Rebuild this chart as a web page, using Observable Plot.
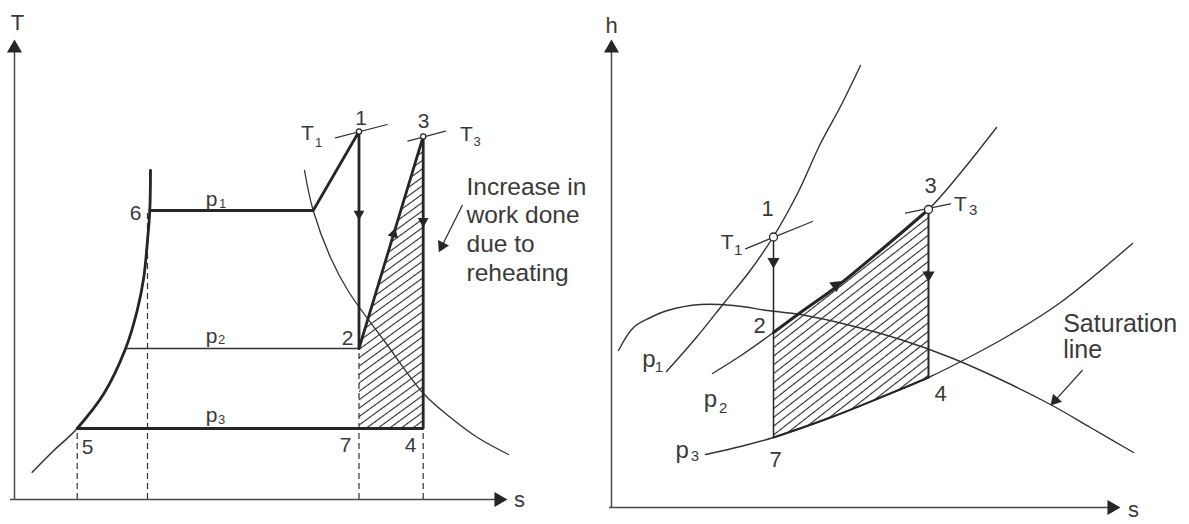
<!DOCTYPE html>
<html><head><meta charset="utf-8">
<script src="https://cdn.jsdelivr.net/npm/d3@7"></script>
<script src="https://cdn.jsdelivr.net/npm/@observablehq/plot@0.6"></script>
<style>
html,body{margin:0;padding:0;background:#fff;overflow:hidden}
#row{display:flex;width:1189px;height:524px}
#row svg{display:block;flex:none}
</style></head><body><div id="row"></div>
<script>
// ---------- LEFT: T–s diagram (schematic units: [s, T]) ----------
const tsSatLiquid = [[17.7,27.3],[39.3,49],[62.7,71],[89.3,105.7],[111,150.7],[122.7,189],[129.3,222.3],[132.7,255.7],[135.3,289],[136,329]];
const tsSatVapour = [[290,329],[298.7,289],[316,242],[334,208],[371,157],[409,106],[436,82],[463,62],[494,45]];
const tsState = {"1":[344.5,368],"2":[344.5,151],"3":[408.7,363],"4":[408.7,71],"5":[62.7,71],"6":[135.3,289],"7":[344.5,71]};
const tsDryPoint = [298.7,289];
const tsP2Start = [111,151];
const tsDropsFrom = [[62.7,71],[133,289],[344.5,151],[408.7,71]];
const tsIsoT1 = [[321,361.7],[372.7,375]];
const tsIsoT3 = [[393.3,358.3],[431,368.3]];
const tsNumbers = [["1",346.7,381],["2",333,161],["3",409,378],["4",396,54],["5",73,52],["6",121,286],["7",331,54]];
const tsLetters = [["T",293,366],["T",452,365],["p",197,300.7],["p",197,163.7],["p",197,84.7]];
const tsSubs = [["1",304,357],["3",462.5,358],["1",208,296],["2",207,159.5],["3",207,80]];
const tsNote = {text:"Increase in\nwork done\ndue to\nreheating", s:452, T:325};
const tsNoteArrow = [[447.7,294],[424.3,247.3]];
const tsAxisTip = {T:460, s:493};
const tsAxisLabels = [["T",3,477],["s",505,0]];

// ---------- RIGHT: h–s diagram (schematic units: [s, h]) ----------
const hsP1 = [[55,136],[84,169],[113,205],[138,236],[162,271],[186,314],[209,364],[229,401],[249,442]];
const hsP2 = [[101,134],[131,153],[162,175],[189,195],[224,220],[269,257],[317,298],[351,337],[385,380]];
const hsP3 = [[94,53],[129,61],[162,70],[219,90],[269,110],[317,130],[359,151],[399,173],[449,205],[521,264]];
const hsSaturation = [[7,157],[22,180],[39,190],[56,197],[89,203],[122,202],[156,197],[189,193],[239,182],[289,168],[339,150],[389,128],[439,103],[479,80],[522,55]];
const hsState = {"1":[162,270.5],"2":[162,175],"3":[317,298],"4":[317,130],"7":[162,70]};
const hsIsoT1 = [[134,258.7],[201,286]];
const hsIsoT3 = [[294,294.3],[339,303.7]];
const hsNumbers = [["1",156,299],["2",148,182],["3",319,322],["4",329,114],["7",164,48]];
const hsLetters = [["T",115.7,265.3],["T",349,303.7],["p",37.3,147.7],["p",99,107.7],["p",70.7,56.7]];
const hsSubs = [["1",126.7,257],["3",361.7,297.7],["1",47.3,140.3],["2",111.7,99.7],["3",83.3,51]];
const hsNote = {text:"Saturation\nline", s:451.7, h:194.8};
const hsNoteArrow = [[470.7,137],[439,102]];
const hsAxisTip = {h:468, s:509};
const hsAxisLabels = [["h",0,482],["s",522,-2]];

// ---------- helpers ----------
const INK = "#262626", THIN = "#333", TXT = "#3a3a3a", AX = "#4a4a4a";
const FONT = "Liberation Sans, Arial, Helvetica, sans-serif";
const K = 1.555; // tip distance of d3 triangle symbol, in units of r
function along(a, b, t) {
  return {x:a[0]+(b[0]-a[0])*t, y:a[1]+(b[1]-a[1])*t, angle:Math.atan2(b[0]-a[0], b[1]-a[1])*180/Math.PI};
}
function headAt(from, to, r) {
  const dx = to[0]-from[0], dy = to[1]-from[1], L = Math.hypot(dx, dy);
  return {x:to[0]-dx/L*K*r, y:to[1]-dy/L*K*r, angle:Math.atan2(dx, dy)*180/Math.PI};
}
function addHatch(svg, id, spacing, angle, width) {
  d3.select(svg).insert("defs", ":first-child").html(
    `<pattern id="${id}" patternUnits="userSpaceOnUse" width="20" height="${spacing}" patternTransform="rotate(${-angle})">` +
    `<line x1="-1" y1="${spacing/2}" x2="21" y2="${spacing/2}" stroke="${INK}" stroke-width="${width}"/></pattern>`);
}
const textOpts = (size) => ({x:d=>d[1], y:d=>d[2], text:d=>d[0], fontSize:size, fill:TXT});

// ---------- LEFT PLOT ----------
const S = tsState;
const tsHatch = [S["7"], S["2"], S["3"], S["4"]];
const tsFlow = [along(S["1"], S["2"], 0.38), along(S["3"], S["4"], 0.29), along(S["2"], S["3"], 0.54)];
const tsCallHead = headAt(tsNoteArrow[0], tsNoteArrow[1], 4.5);
const tsAxisHeads = [{x:0, y:tsAxisTip.T - K*5.6, angle:0}, {x:tsAxisTip.s - K*5.6, y:0, angle:90}];

const left = Plot.plot({
  width:595, height:524, marginLeft:14, marginRight:0, marginTop:0, marginBottom:25,
  x:{domain:[0,581], axis:null}, y:{domain:[0,499], axis:null},
  style:{fontFamily:FONT, background:"transparent", overflow:"visible"},
  marks:[
    Plot.line(tsHatch, {fill:"url(#hatchL)", stroke:"none"}),
    // axes
    Plot.ruleX([0], {y1:0, y2:tsAxisHeads[0].y, stroke:AX, strokeWidth:1.5}),
    Plot.ruleY([0], {x1:-4, x2:tsAxisHeads[1].x, stroke:AX, strokeWidth:1.5}),
    Plot.dot(tsAxisHeads, {x:"x", y:"y", rotate:"angle", symbol:"triangle", r:5.6, fill:INK, stroke:"none"}),
    // dashed projections
    Plot.ruleX(tsDropsFrom, {x:d=>d[0], y1:0, y2:d=>d[1], stroke:THIN, strokeWidth:1.2, strokeDasharray:"6,4"}),
    // saturation dome
    Plot.line(tsSatLiquid, {curve:"catmull-rom", stroke:THIN, strokeWidth:1.5}),
    Plot.line(tsSatLiquid.filter(d=>d[1]>=71), {curve:"catmull-rom", stroke:INK, strokeWidth:2.8}),
    Plot.line(tsSatVapour, {curve:"catmull-rom", stroke:THIN, strokeWidth:1.3}),
    // p2 line
    Plot.line([tsP2Start, S["2"]], {stroke:THIN, strokeWidth:1.3}),
    // cycle
    Plot.line([S["6"], tsDryPoint, S["1"], S["2"]], {stroke:INK, strokeWidth:2.8, strokeLinejoin:"miter"}),
    Plot.line([S["2"], S["3"], S["4"], S["7"], S["5"]], {stroke:INK, strokeWidth:2.8, strokeLinejoin:"miter"}),
    // isotherm ticks
    Plot.line(tsIsoT1, {stroke:THIN, strokeWidth:1.2}),
    Plot.line(tsIsoT3, {stroke:THIN, strokeWidth:1.2}),
    Plot.dot([S["1"], S["3"]], {x:d=>d[0], y:d=>d[1], r:2.6, fill:"white", stroke:INK, strokeWidth:1.2}),
    // flow arrows
    Plot.dot(tsFlow, {x:"x", y:"y", rotate:"angle", symbol:"triangle", r:4, fill:INK, stroke:"none"}),
    // callout
    Plot.line([tsNoteArrow[0], [tsCallHead.x, tsCallHead.y]], {stroke:THIN, strokeWidth:1.3}),
    Plot.dot([tsCallHead], {x:"x", y:"y", rotate:"angle", symbol:"triangle", r:4.5, fill:INK, stroke:"none"}),
    Plot.text([tsNote], {x:"s", y:"T", text:"text", textAnchor:"start", lineAnchor:"top", lineHeight:1.167, fontSize:24.5, fill:TXT}),
    // labels
    Plot.text(tsNumbers, textOpts(21)),
    Plot.text(tsLetters, textOpts(21)),
    Plot.text(tsSubs, textOpts(13)),
    Plot.text(tsAxisLabels, textOpts(22))
  ]
});
addHatch(left, "hatchL", 6.8, 36, 1.1);

// ---------- RIGHT PLOT ----------
const H = hsState;
const inRange = d => d[0] >= 162 && d[0] <= 317;
const hsTop = hsP2.filter(inRange), hsBottom = hsP3.filter(inRange);
const hsHatch = [...hsTop, ...hsBottom.slice().reverse()];
const hsFlow = [along(H["1"], H["7"], 0.122), along(H["3"], H["4"], 0.39), along(hsP2[3], hsP2[5], 0.44)];
const hsCallHead = headAt(hsNoteArrow[0], hsNoteArrow[1], 4.5);
const hsAxisHeads = [{x:0, y:hsAxisTip.h - K*5.6, angle:0}, {x:hsAxisTip.s - K*5.6, y:0, angle:90}];

const right = Plot.plot({
  width:594, height:524, marginLeft:16, marginRight:0, marginTop:0, marginBottom:17,
  x:{domain:[0,578], axis:null}, y:{domain:[0,507], axis:null},
  style:{fontFamily:FONT, background:"transparent", overflow:"visible"},
  marks:[
    Plot.line(hsHatch, {fill:"url(#hatchR)", stroke:"none"}),
    Plot.ruleX([0], {y1:0, y2:hsAxisHeads[0].y, stroke:AX, strokeWidth:1.5}),
    Plot.ruleY([0], {x1:-2, x2:hsAxisHeads[1].x, stroke:AX, strokeWidth:1.5}),
    Plot.dot(hsAxisHeads, {x:"x", y:"y", rotate:"angle", symbol:"triangle", r:5.6, fill:INK, stroke:"none"}),
    Plot.line(hsSaturation, {curve:"catmull-rom", stroke:THIN, strokeWidth:1.4}),
    Plot.line(hsP1, {curve:"catmull-rom", stroke:THIN, strokeWidth:1.4}),
    Plot.line(hsP2, {curve:"catmull-rom", stroke:THIN, strokeWidth:1.4}),
    Plot.line(hsP3, {curve:"catmull-rom", stroke:THIN, strokeWidth:1.4}),
    Plot.line([H["1"], H["7"]], {stroke:INK, strokeWidth:1.5}),
    Plot.line([H["3"], H["4"]], {stroke:INK, strokeWidth:2}),
    Plot.line(hsTop, {curve:"catmull-rom", stroke:INK, strokeWidth:3}),
    Plot.line(hsBottom, {curve:"catmull-rom", stroke:INK, strokeWidth:2}),
    Plot.line(hsIsoT1, {stroke:THIN, strokeWidth:1.3}),
    Plot.line(hsIsoT3, {stroke:THIN, strokeWidth:1.3}),
    Plot.dot([H["1"], H["3"]], {x:d=>d[0], y:d=>d[1], r:4, fill:"white", stroke:INK, strokeWidth:1.3}),
    Plot.dot(hsFlow, {x:"x", y:"y", rotate:"angle", symbol:"triangle", r:4.5, fill:INK, stroke:"none"}),
    Plot.line([hsNoteArrow[0], [hsCallHead.x, hsCallHead.y]], {stroke:THIN, strokeWidth:1.3}),
    Plot.dot([hsCallHead], {x:"x", y:"y", rotate:"angle", symbol:"triangle", r:4.5, fill:INK, stroke:"none"}),
    Plot.text([hsNote], {x:"s", y:"h", text:"text", textAnchor:"start", lineAnchor:"top", lineHeight:1.07, fontSize:25, fill:TXT}),
    Plot.text(hsNumbers, textOpts(22)),
    Plot.text(hsLetters.filter(d=>d[0]==="T"), textOpts(21)),
    Plot.text(hsLetters.filter(d=>d[0]==="p"), textOpts(24)),
    Plot.text(hsSubs, textOpts(15)),
    Plot.text(hsAxisLabels, textOpts(22))
  ]
});
addHatch(right, "hatchR", 6.9, 38, 1.1);

document.getElementById("row").append(left, right);
</script></body></html>
